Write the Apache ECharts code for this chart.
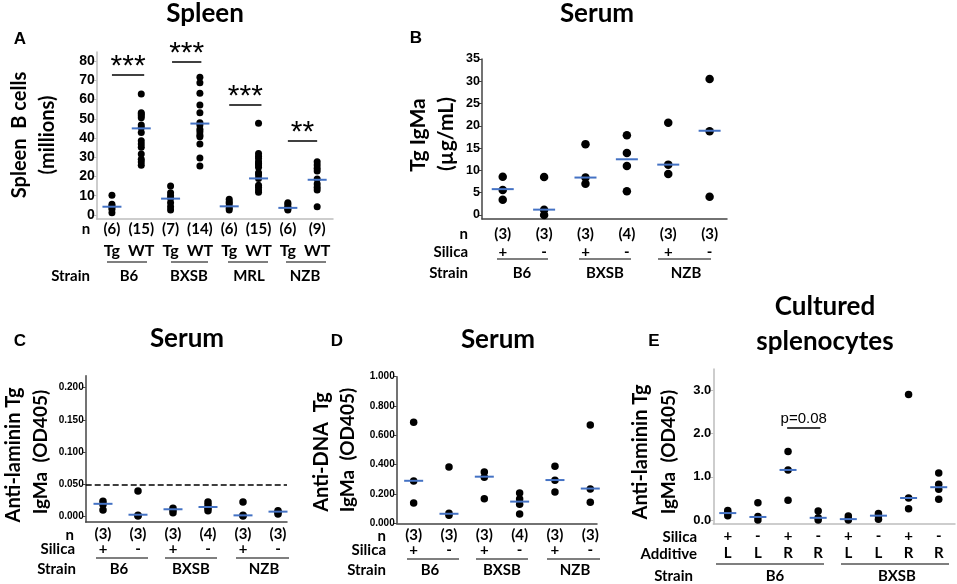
<!DOCTYPE html>
<html>
<head>
<meta charset="utf-8">
<style>html,body{margin:0;background:#fff}#main{width:957px;height:584px}</style>
<script src="https://cdn.jsdelivr.net/npm/echarts@6/dist/echarts.min.js"></script>
</head>
<body>
<div id="main"></div>
<script>
// data
var catsA = ['Tg','WT','Tg','WT','Tg','WT','Tg','WT'];
var nA = ['(6)','(15)','(7)','(14)','(6)','(15)','(6)','(9)'];
var dotsA = [
  [10.2,5.6,4.6,4,3,1.2],
  [62.9,53.1,52.5,51.5,50.5,46.7,45.4,42.8,38.6,36.9,35.2,31.7,28.9,27.5,25.8],
  [15,11.6,10,8.7,6.4,4.3,2.6],
  [71.5,68.7,63.2,57.1,53.1,47.9,46.8,44.5,43.3,41.6,40.7,36.9,29.6,25.5],
  [8.2,6.9,6.1,4.7,3.5,2.6],
  [47.6,32,30.5,29.4,27.7,26.8,26,24.8,22,20.8,19,15.5,14.4,13,11.8],
  [6.4,5.6,4.3,3.7,3.1,2.6],
  [27.7,26,24.3,22.9,18.7,16.1,14.4,13,4.3]
];
var medA = [4.3,45,8.5,47.5,4.5,19,3.7,18.3];
var ticksA = [0,10,20,30,40,50,60,70,80];

var silica6 = ['+','-','+','-','+','-'];
var nBCD = ['(3)','(3)','(3)','(4)','(3)','(3)'];
var dotsB = [[8.6,5.6,3.4],[8.5,1.2,0],[15.9,8.4,7],[17.9,13.9,11,5.3],[20.7,11.3,9.2],[30.5,18.8,4.1]];
var medB = [5.8,1.2,8.4,12.5,11.3,18.9];
var ticksB = [0,5,10,15,20,25,30,35];

var dotsC = [[0.023,0.018,0.0095],[0.039,0.001,0],[0.012,0.0095,0.005],[0.022,0.017,0.012,0.008],[0.022,0.001,0],[0.008,0.006,0.003]];
var medC = [0.019,0.002,0.0105,0.014,0.001,0.0068];
var ticksC = [0,0.05,0.1,0.15,0.2];
var cutoffC = 0.048;

var dotsD = [[0.69,0.289,0.139],[0.384,0.068,0.055],[0.35,0.314,0.168],[0.207,0.166,0.13,0.064],[0.39,0.293,0.214],[0.67,0.234,0.143]];
var medD = [0.29,0.065,0.318,0.148,0.295,0.237];
var ticksD = [0,0.2,0.4,0.6,0.8,1];

var silicaE = ['+','-','+','-','+','-','+','-'];
var additiveE = ['L','L','R','R','L','L','R','R'];
var dotsE = [[0.22,0.17,0.1],[0.4,0.08,0],[1.59,1.16,0.46],[0.21,0.05,0],[0.09,0.03,0],[0.15,0.1,0.02],[2.91,0.51,0.26],[1.09,0.83,0.71,0.48]];
var medE = [0.16,0.07,1.16,0.05,0.02,0.1,0.51,0.76];
var ticksE = [0,1,2,3];

var sigA = [[0,1.1,72.7,'***'],[2.05,3.05,79.6,'***'],[4,5.1,57.5,'***'],[6,7,38.8,'**']];
var sigE = [[1.97,3.07,2.13,'p=0.08']];

var LABEL = 'Lato, "Noto Sans", sans-serif';
var TICK = '"Liberation Sans", Arial, sans-serif';
var BLUE = '#4472c4';

var grids = [], xAxes = [], yAxes = [], series = [];

function panel(p) {
  var i = grids.length;
  grids.push({left:p.left, top:p.top, width:p.right-p.left, height:p.bottom-p.top});
  var vals = [];
  for (var k = 0; k < p.rowA.length; k++) vals.push(k);
  var line = {show:true, onZero:false, lineStyle:{color:p.axis, width:1.5}};
  xAxes.push({
    type:'value', gridIndex:i, min:p.xMin, max:p.xMax,
    splitLine:{show:false}, axisTick:{show:false}, axisLine:line,
    axisLabel:{
      customValues:vals, margin:p.xMargin, color:'#000',
      formatter:function(v){ return '{a|'+p.rowA[v]+'}\n{b|'+p.rowB[v]+'}'; },
      rich:{
        a:{fontFamily:LABEL, fontWeight:'bold', fontSize:15, lineHeight:p.rowGap, color:'#000'},
        b:{fontFamily:LABEL, fontWeight:'bold', fontSize:p.rowBSize||15, lineHeight:p.rowGap, color:'#000'}
      }
    }
  });
  yAxes.push({
    type:'value', gridIndex:i, min:p.yMin, max:p.yMax, splitLine:{show:false},
    axisLine:line,
    axisTick:{show:true, length:3, customValues:p.ticks, lineStyle:{color:p.axis, width:1}},
    axisLabel:{
      customValues:p.ticks, margin:2, color:'#000', fontFamily:TICK, fontWeight:'bold', fontSize:p.tickSize,
      formatter:function(v){ return v.toFixed(p.digits); }
    }
  });
  var dots = [];
  p.dots.forEach(function(col, x){ col.forEach(function(v){ dots.push([x, v]); }); });
  var marks = (p.sig||[]).map(function(s){
    return [{coord:[s[0],s[2]], label:{show:true, position:'middle', formatter:s[3], distance:p.sigDist,
      fontFamily:p.sigFont, fontSize:p.sigSize, color:'#000'}}, {coord:[s[1],s[2]]}];
  });
  if (p.cutoff !== undefined) {
    marks.push([{coord:[p.xMin,p.cutoff], lineStyle:{type:'dashed', width:1.5, color:'#000'}, label:{show:false}}, {coord:[p.xMax,p.cutoff]}]);
  }
  series.push({
    type:'scatter', xAxisIndex:i, yAxisIndex:i, data:dots, symbolSize:p.dot, clip:false,
    itemStyle:{color:'#000', opacity:1}, silent:true,
    markLine:{silent:true, symbol:'none', animation:false, lineStyle:{type:'solid', color:'#000', width:1.5}, data:marks}
  });
  series.push({
    type:'scatter', xAxisIndex:i, yAxisIndex:i, z:5, clip:false, silent:true,
    data:p.med.map(function(v,x){ return [x,v]; }),
    symbol:'rect', symbolSize:[p.medW,2], itemStyle:{color:BLUE, opacity:1}
  });
}

panel({left:96.7,right:333,top:52,bottom:219,xMin:-0.52,xMax:7.54,yMin:-2.08,yMax:84.68,axis:'#bdbdbd',
  ticks:ticksA,digits:0,tickSize:14,dots:dotsA,med:medA,medW:19,dot:7,rowA:nA,rowB:catsA,rowGap:21,xMargin:0,rowBSize:16,
  sig:sigA,sigDist:-7,sigFont:TICK,sigSize:30});
panel({left:482,right:727,top:59,bottom:219,xMin:-0.501,xMax:5.42,yMin:-0.9,yMax:35,axis:'#444',
  ticks:ticksB,digits:0,tickSize:12.5,dots:dotsB,med:medB,medW:22,dot:8.5,rowA:nBCD,rowB:silica6,rowGap:18,xMargin:6});
panel({left:85.7,right:287,top:375.7,bottom:522,xMin:-0.494,xMax:5.257,yMin:-0.00935,yMax:0.2187,axis:'#444',
  ticks:ticksC,digits:3,tickSize:10,dots:dotsC,med:medC,medW:19,dot:7.5,rowA:nBCD,rowB:silica6,rowGap:14.5,xMargin:5,cutoff:cutoffC});
panel({left:396.7,right:597,top:376.7,bottom:523.3,xMin:-0.48,xMax:5.19,yMin:0,yMax:1,axis:'#444',
  ticks:ticksD,digits:3,tickSize:10,dots:dotsD,med:medD,medW:19,dot:7.5,rowA:nBCD,rowB:silica6,rowGap:14.5,xMargin:5});
panel({left:713.3,right:955,top:369,bottom:524,xMin:-0.48,xMax:7.54,yMin:-0.093,yMax:3.5,axis:'#bdbdbd',
  ticks:ticksE,digits:1,tickSize:13,dots:dotsE,med:medE,medW:17,dot:7.5,rowA:silicaE,rowB:additiveE,rowGap:17,xMargin:4,
  sig:sigE,sigDist:2,sigFont:TICK,sigSize:15});

// titles, panel letters, row captions, group lines
var graphic = [];
function txt(x, y, s, size, align, rot, family) {
  graphic.push({type:'text', x:x, y:y, rotation:rot||0, silent:true, z:10, style:{
    text:s, fontFamily:family||LABEL, fontWeight:'bold', fontSize:size, fill:'#000',
    align:align||'center', verticalAlign:'middle'}});
}
function rule(x1, x2, y) {
  graphic.push({type:'line', silent:true, shape:{x1:x1,y1:y,x2:x2,y2:y}, style:{stroke:'#000', lineWidth:1.2}});
}
var UP = Math.PI/2;

txt(205,14,'Spleen',26); txt(597,14,'Serum',26); txt(187,339,'Serum',26); txt(498,340,'Serum',26);
txt(825,307,'Cultured',26); txt(825,342,'splenocytes',26);
[['A',20,39],['B',416,38],['C',20,341],['D',337,341],['E',654,341]].forEach(function(l){ txt(l[1],l[2],l[0],17,'center',0,TICK); });

txt(20,135,'Spleen  B cells',20,'center',UP); txt(48,135,'(millions)',20,'center',UP);
txt(418,135,'Tg IgMa',21,'center',UP); txt(446,134,'(µg/mL)',21,'center',UP);
txt(14,455,'Anti-laminin Tg',20,'center',UP); txt(41,452,'IgMa  (OD405)',19,'center',UP);
txt(322,452,'Anti-DNA  Tg',20,'center',UP); txt(348,450,'IgMa  (OD405)',19,'center',UP);
txt(641,452,'Anti-laminin Tg',20,'center',UP); txt(669,452,'IgMa  (OD405)',19,'center',UP);

txt(86,229,'n',15); txt(90,276,'Strain',15,'right');
[['B6',129,107,147],['BXSB',189,171,208],['MRL',249,228,268],['NZB',305,286,326]].forEach(function(g){ txt(g[1],276,g[0],15); rule(g[2],g[3],262); });

txt(468,234,'n',15,'right'); txt(468,252,'Silica',15,'right'); txt(468,273,'Strain',15,'right');
[['B6',522,497,548],['BXSB',605,579,631],['NZB',686,658,711]].forEach(function(g){ txt(g[1],273,g[0],15); rule(g[2],g[3],259); });

txt(74,535,'n',15,'right'); txt(75,549,'Silica',15,'right'); txt(76,569,'Strain',15,'right');
[['B6',119,96,148],['BXSB',191,165,217],['NZB',264,236,289]].forEach(function(g){ txt(g[1],569,g[0],15); rule(g[2],g[3],558); });

txt(386,536,'n',15,'right'); txt(386,550,'Silica',15,'right'); txt(386,570,'Strain',15,'right');
[['B6',430,407,459],['BXSB',502,476,528],['NZB',575,547,600]].forEach(function(g){ txt(g[1],570,g[0],15); rule(g[2],g[3],559); });

txt(697,537,'Silica',15,'right'); txt(697,554,'Additive',15,'right'); txt(693,576,'Strain',15,'right');
[['B6',775,716,824],['BXSB',897,841,949]].forEach(function(g){ txt(g[1],576,g[0],15); rule(g[2],g[3],564); });

var myChart = echarts.init(document.getElementById('main'));
myChart.setOption({
  animation:false,
  backgroundColor:'#fff',
  grid:grids, xAxis:xAxes, yAxis:yAxes, series:series, graphic:graphic
});
</script>
</body>
</html>
